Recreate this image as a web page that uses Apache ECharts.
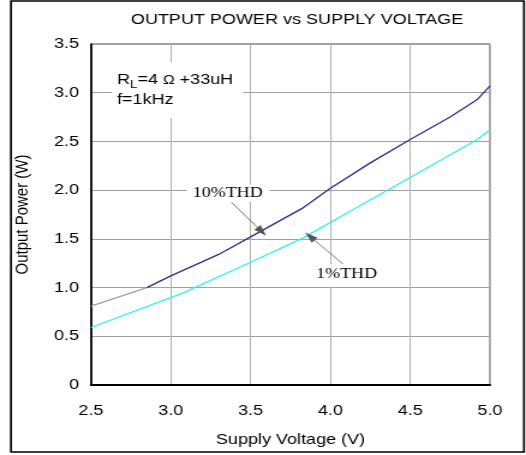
<!DOCTYPE html>
<html><head><meta charset="utf-8">
<script src="https://cdn.jsdelivr.net/npm/echarts@6/dist/echarts.min.js"></script>
<style>html,body{margin:0;padding:0;background:#fff;overflow:hidden}
#c{width:438px;height:455px;transform:scaleX(1.200913);transform-origin:0 0}</style>
</head><body><div id="c"></div>
<script>
const title = 'OUTPUT POWER vs SUPPLY VOLTAGE';
const xName = 'Supply Voltage (V)';
const yName = 'Output Power (W)';
// 10%THD curve (first segment drawn gray in reference)
const thd10Start = [[2.5, 0.81], [2.85, 1.0]];
const thd10 = [[2.85, 1.0], [3.0, 1.12], [3.3, 1.34], [3.5, 1.52], [3.82, 1.81], [4.0, 2.02], [4.25, 2.28], [4.5, 2.52], [4.75, 2.75], [4.92, 2.93], [5.0, 3.07]];
// 1%THD curve
const thd1 = [[2.5, 0.59], [3.07, 0.94], [3.5, 1.26], [3.83, 1.51], [4.12, 1.78], [4.5, 2.13], [4.92, 2.52], [5.0, 2.62]];
// annotation arrows: [from, to]
const arrow10 = [[3.38, 1.875], [3.57, 1.575]];
const arrow1 = [[4.08, 1.24], [3.872, 1.525]];
const label10 = {text: '10%THD', at: [3.137, 1.966]};
const label1 = {text: '1%THD', at: [3.91, 1.134]};

const S = 526 / 438;          // horizontal stretch of the whole picture
const ux = v => v / S;        // real px -> unstretched px
const chart = echarts.init(document.getElementById('c'));
const sans = 'Liberation Sans, Arial, sans-serif';
const serif = 'Liberation Serif, Times New Roman, serif';
const arrowLine = (pts) => ({
  silent: true, symbol: ['none', 'triangle'], symbolSize: [7, 11],
  label: {show: false},
  itemStyle: {color: '#111'},
  lineStyle: {color: '#555', width: 0.8, type: 'solid', opacity: 1},
  emphasis: {disabled: true},
  data: [[{coord: pts[0]}, {coord: pts[1]}]]
});
chart.setOption({
  animation: false,
  title: {text: title, left: ux(291), top: 7, textAlign: 'center',
    textStyle: {fontFamily: sans, fontSize: 15, fontWeight: 'normal', color: '#000'}},
  grid: {left: ux(91), right: 438 - ux(490), top: 44, bottom: 70, show: true, borderColor: '#444', borderWidth: 1},
  xAxis: {type: 'value', min: 2.5, max: 5.0, interval: 0.5,
    name: xName, nameLocation: 'middle', nameGap: 47,
    nameTextStyle: {fontFamily: sans, fontSize: 15, color: '#000'},
    axisLine: {show: true, onZero: false, lineStyle: {color: '#000', width: 2}},
    axisTick: {show: false},
    axisLabel: {fontFamily: sans, fontSize: 15, color: '#000', margin: 18, formatter: v => v.toFixed(1)},
    splitLine: {show: true, lineStyle: {color: '#b0b0b0', width: 1}}},
  yAxis: {type: 'value', min: 0, max: 3.5, interval: 0.5,
    name: yName, nameLocation: 'middle', nameGap: 49, nameRotate: 90,
    nameTextStyle: {fontFamily: sans, fontSize: 15, color: '#000'},
    axisLine: {show: true, lineStyle: {color: '#000', width: 1.7}},
    axisTick: {show: false},
    axisLabel: {fontFamily: sans, fontSize: 15, color: '#000', margin: 10, formatter: v => v === 0 ? '0' : v.toFixed(1)},
    splitLine: {show: true, lineStyle: {color: '#a0a0a0', width: 1}}},
  series: [
    {type: 'line', data: thd10Start, symbol: 'none', lineStyle: {color: '#a0a0a0', width: 1.2}, z: 3},
    {type: 'line', data: thd10, symbol: 'none', lineStyle: {color: '#2f2f90', width: 1.3}, z: 3,
      markLine: arrowLine(arrow10)},
    {type: 'line', data: thd1, symbol: 'none', lineStyle: {color: '#30f0f0', width: 1.3}, z: 3,
      markLine: arrowLine(arrow1)}
  ]
});
const p10 = chart.convertToPixel({gridIndex: 0}, label10.at);
const p1 = chart.convertToPixel({gridIndex: 0}, label1.at);
chart.setOption({
  graphic: [
    {type: 'rect', shape: {x: ux(11), y: 1, width: ux(524 - 11), height: 451}, style: {fill: null, stroke: '#000', lineWidth: 1.7}, z: 100},
    {type: 'rect', shape: {x: ux(112), y: 62, width: ux(131), height: 56}, style: {fill: '#fff'}, z: 10},
    {type: 'text', x: ux(117), y: 70, z: 11, style: {
      text: 'R{s|L}=4 {o|Ω} +33uH\nf=1kHz', fontFamily: sans, fontSize: 15, fill: '#000', lineHeight: 20,
      rich: {s: {fontSize: 11, fontFamily: sans, fill: '#000', verticalAlign: 'bottom'},
             o: {fontSize: 13, fontFamily: sans, fill: '#000'}}}},
    {type: 'rect', shape: {x: p10[0] - ux(6), y: p10[1] - 9, width: ux(83), height: 17}, style: {fill: '#fff'}, z: 10},
    {type: 'text', x: p10[0], y: p10[1], z: 11, style: {text: label10.text, fontFamily: serif, fontSize: 15, fill: '#000', verticalAlign: 'middle'}},
    {type: 'rect', shape: {x: p1[0] - ux(8), y: p1[1] - 10, width: ux(78), height: 22}, style: {fill: '#fff'}, z: 10},
    {type: 'text', x: p1[0], y: p1[1], z: 11, style: {text: label1.text, fontFamily: serif, fontSize: 15, fill: '#000', verticalAlign: 'middle'}}
  ]
});
</script></body></html>
